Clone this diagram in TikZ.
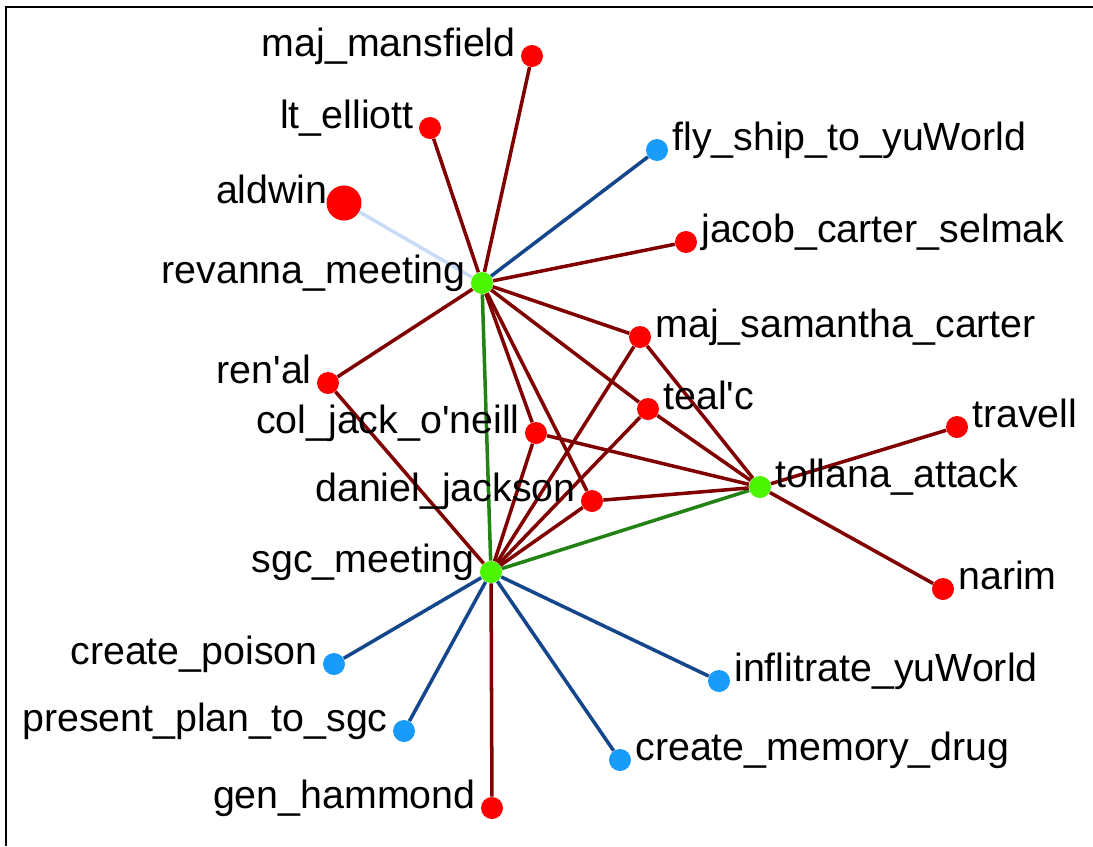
\documentclass[tikz,border=0pt]{standalone}
\usepackage{fontspec}
\setmainfont{Liberation Sans}
\usetikzlibrary{positioning}
\definecolor{nodered}{RGB}{255,0,0}
\definecolor{nodegreen}{RGB}{76,245,0}
\definecolor{nodeblue}{RGB}{25,155,250}
\definecolor{edgered}{RGB}{128,0,0}
\definecolor{edgeblue}{RGB}{20,70,140}
\definecolor{edgegreen}{RGB}{35,130,20}
\definecolor{edgelight}{RGB}{200,220,250}
\newcommand{\q}{\textquotesingle}

\begin{document}
\begin{tikzpicture}[x=0.02cm, y=-0.02cm,
  dot/.style={circle, inner sep=0pt, minimum size=0.44cm},
  reddot/.style={dot, fill=nodered},
  greendot/.style={dot, fill=nodegreen},
  bluedot/.style={dot, fill=nodeblue},
  lbl/.style={inner sep=0pt, font=\fontsize{22.4}{26}\selectfont},
  redge/.style={edgered, line width=2pt},
  bedge/.style={edgeblue, line width=2pt},
  gedge/.style={edgegreen, line width=2pt}]
\useasboundingbox (0,0) rectangle (1093,846);
\draw[line width=1.2pt] (6,846) -- (6,7) -- (1093,7);

% events
\node[greendot] (rm) at (482,283) {};
\node[greendot] (sm) at (491,572) {};
\node[greendot] (ta) at (760,487) {};

% agents
\node[reddot] (mm) at (532,56) {};
\node[reddot] (le) at (430,128) {};
\node[reddot, minimum size=0.7cm] (al) at (344,203) {};
\node[reddot] (jc) at (686,242) {};
\node[reddot] (sc) at (640,337) {};
\node[reddot] (re) at (328,383) {};
\node[reddot] (tc) at (648,409) {};
\node[reddot] (cj) at (536,433) {};
\node[reddot] (tr) at (957,427) {};
\node[reddot] (dj) at (592,501) {};
\node[reddot] (na) at (943,589) {};
\node[reddot] (gh) at (492,808) {};

% tasks
\node[bluedot] (fs) at (657,150) {};
\node[bluedot] (cp) at (334,664) {};
\node[bluedot] (iy) at (719,681) {};
\node[bluedot] (pp) at (404,731) {};
\node[bluedot] (cm) at (620,760) {};

% revanna_meeting links
\draw[redge] (rm) -- (mm);
\draw[redge] (rm) -- (le);
\draw[bedge] (rm) -- (fs);
\draw[edgelight, line width=2pt] (rm) -- (al);
\draw[redge] (rm) -- (jc);
\draw[redge] (rm) -- (sc);
\draw[redge] (rm) -- (tc);
\draw[redge] (rm) -- (cj);
\draw[redge] (rm) -- (dj);
\draw[redge] (rm) -- (re);
\draw[gedge] (rm) -- (sm);

% sgc_meeting links
\draw[redge] (sm) -- (re);
\draw[redge] (sm) -- (cj);
\draw[redge] (sm) -- (sc);
\draw[redge] (sm) -- (tc);
\draw[redge] (sm) -- (dj);
\draw[redge] (sm) -- (gh);
\draw[gedge] (sm) -- (ta);
\draw[bedge] (sm) -- (cp);
\draw[bedge] (sm) -- (pp);
\draw[bedge] (sm) -- (cm);
\draw[bedge] (sm) -- (iy);

% tollana_attack links
\draw[redge] (ta) -- (sc);
\draw[redge] (ta) -- (tc);
\draw[redge] (ta) -- (cj);
\draw[redge] (ta) -- (dj);
\draw[redge] (ta) -- (tr);
\draw[redge] (ta) -- (na);

% labels
\node[lbl, left=0.32cm of mm.center, anchor=base east] (mm_t) {maj\_mansfield};
\node[lbl, left=0.32cm of le.center, anchor=base east] (le_t) {lt\_elliott};
\node[lbl, left=0.32cm of al.center, anchor=base east] (al_t) {aldwin};
\node[lbl, left=0.32cm of rm.center, anchor=base east] (rm_t) {revanna\_meeting};
\node[lbl, left=0.32cm of re.center, anchor=base east] (re_t) {ren\q al};
\node[lbl, left=0.32cm of cj.center, anchor=base east] (cj_t) {col\_jack\_o\q neill};
\node[lbl, left=0.32cm of dj.center, anchor=base east] (dj_t) {daniel\_jackson};
\node[lbl, left=0.32cm of sm.center, anchor=base east] (sm_t) {sgc\_meeting};
\node[lbl, left=0.32cm of cp.center, anchor=base east] (cp_t) {create\_poison};
\node[lbl, left=0.32cm of pp.center, anchor=base east] (pp_t) {present\_plan\_to\_sgc};
\node[lbl, left=0.32cm of gh.center, anchor=base east] (gh_t) {gen\_hammond};
\node[lbl, right=0.3cm of fs.center, anchor=base west] (fs_t) {fly\_ship\_to\_yuWorld};
\node[lbl, right=0.3cm of jc.center, anchor=base west] (jc_t) {jacob\_carter\_selmak};
\node[lbl, right=0.3cm of sc.center, anchor=base west] (sc_t) {maj\_samantha\_carter};
\node[lbl, right=0.3cm of tc.center, anchor=base west] (tc_t) {teal\q c};
\node[lbl, right=0.3cm of tr.center, anchor=base west] (tr_t) {travell};
\node[lbl, right=0.3cm of ta.center, anchor=base west] (ta_t) {tollana\_attack};
\node[lbl, right=0.3cm of na.center, anchor=base west] (na_t) {narim};
\node[lbl, right=0.3cm of iy.center, anchor=base west] (iy_t) {inflitrate\_yuWorld};
\node[lbl, right=0.3cm of cm.center, anchor=base west] (cm_t) {create\_memory\_drug};
\end{tikzpicture}
\end{document}
